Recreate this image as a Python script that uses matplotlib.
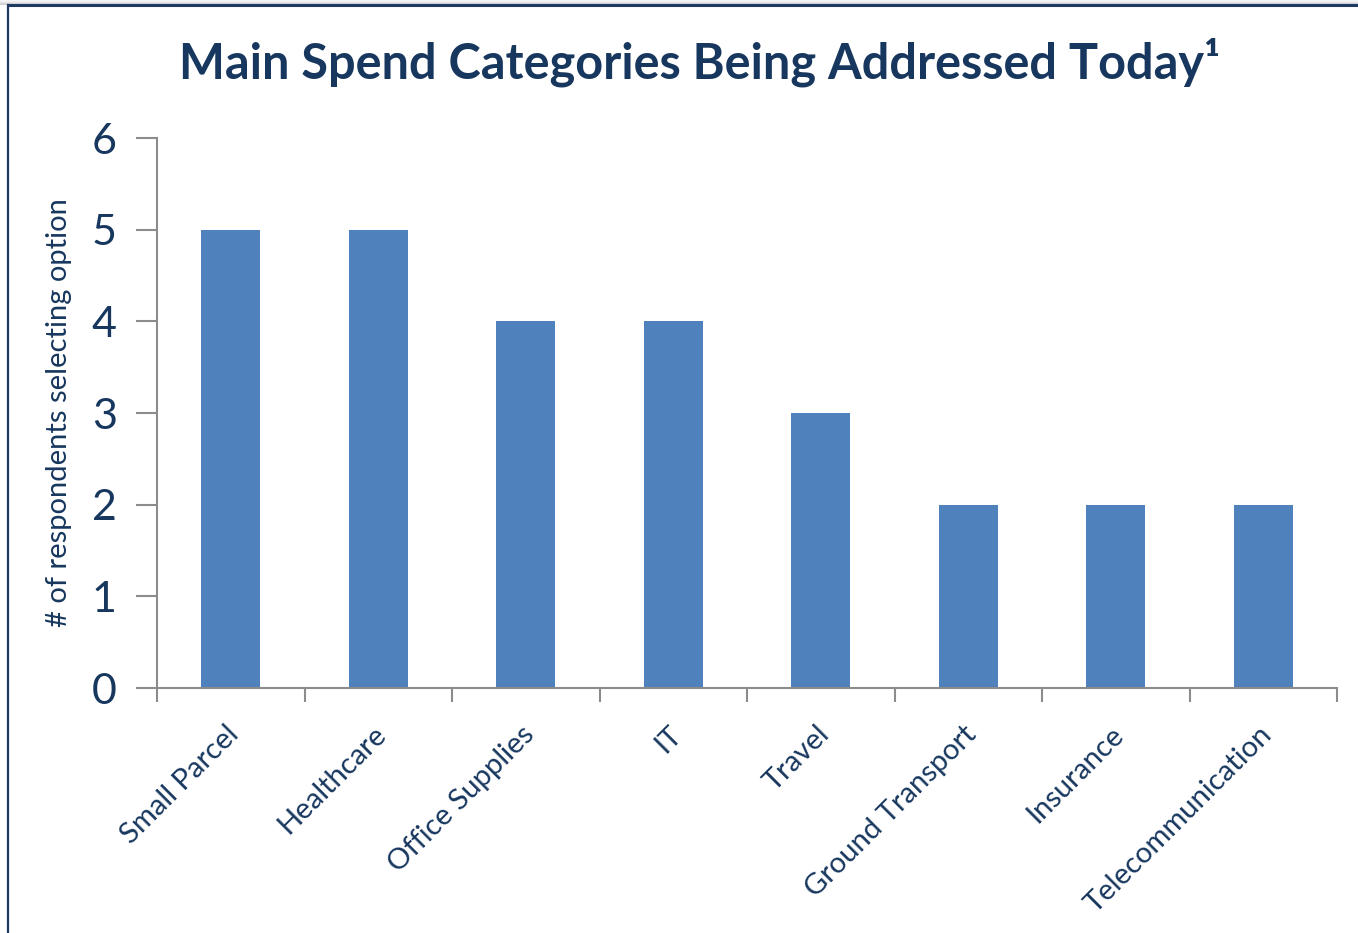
import matplotlib
matplotlib.use("Agg")
import matplotlib.pyplot as plt
from matplotlib.lines import Line2D
from matplotlib.transforms import ScaledTranslation
import numpy as np

categories = ["Small Parcel", "Healthcare", "Office Supplies", "IT", "Travel",
              "Ground Transport", "Insurance", "Telecommunication"]
respondents = [5, 5, 4, 4, 3, 2, 2, 2]
y_ticks = [0, 1, 2, 3, 4, 5, 6]

navy = "#17375E"
bar_color = "#4F81BD"
axis_grey = "#8C8C8C"
font = "Lato"

fig = plt.figure(figsize=(13.58, 9.33), dpi=100)
fig.patch.set_facecolor("white")

# slide frame: soft grey shadow along the top, navy border top and left
for i, c in enumerate(["#C8C8C8", "#D8D8D8", "#E6E6E6", "#F2F2F2"]):
    y = 1 - (4 - i) / 933
    fig.add_artist(Line2D([0, 1], [y, y], transform=fig.transFigure, color=c, lw=1.2))
fig.add_artist(Line2D([8 / 1358, 1], [1 - 5 / 933, 1 - 5 / 933],
                      transform=fig.transFigure, color="#1F3B64", lw=2.2))
fig.add_artist(Line2D([8 / 1358, 8 / 1358], [0, 1 - 5 / 933],
                      transform=fig.transFigure, color="#1F3B64", lw=1.6))

ax = fig.add_axes([157 / 1358, 1 - 688 / 933, (1337 - 157) / 1358, (688 - 138) / 933])
x = np.arange(len(categories))
ax.bar(x, respondents, width=0.4, color=bar_color, zorder=2)

ax.set_xlim(-0.5, len(categories) - 0.5)
ax.set_ylim(0, 6)
ax.set_yticks(y_ticks)
ax.set_yticklabels([str(v) for v in y_ticks], fontsize=31, color=navy, family=font)
ax.tick_params(axis="y", length=15, width=1.5, color=axis_grey, pad=14)

ax.set_xticks(np.arange(-0.5, len(categories), 1.0))
ax.set_xticklabels([])
ax.tick_params(axis="x", which="major", length=10, width=1.5, color=axis_grey)
ax.set_xticks(x, minor=True)
ax.set_xticklabels(categories, minor=True, rotation=45, ha="right",
                   rotation_mode="anchor", fontsize=21, color=navy, family=font)
ax.tick_params(axis="x", which="minor", length=0, pad=24)
shift = ScaledTranslation(-5 / 100, 0, fig.dpi_scale_trans)
for lbl in ax.get_xticklabels(minor=True):
    lbl.set_transform(lbl.get_transform() + shift)

for side in ["top", "right"]:
    ax.spines[side].set_visible(False)
for side in ["left", "bottom"]:
    ax.spines[side].set_color(axis_grey)
    ax.spines[side].set_linewidth(1.5)

ax.set_ylabel("# of respondents selecting option", fontsize=21, color=navy,
              family=font, labelpad=14)

fig.text(700 / 1358, 1 - 62 / 933, "Main Spend Categories Being Addressed Today\u00b9",
         ha="center", va="center", fontsize=35, fontweight="bold", color=navy, family=font)

fig.savefig("out.png", dpi=100, facecolor="white")
